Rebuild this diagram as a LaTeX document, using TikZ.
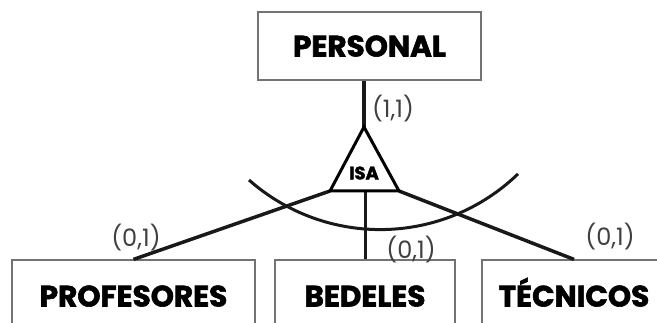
\documentclass[tikz,border=0pt]{standalone}
\usepackage{fontspec}
\setmainfont{Poppins}[BoldFeatures={FakeBold=2}]
\usetikzlibrary{positioning,calc}
\tikzset{
  entity/.style={draw=black!55,line width=1.2pt,inner sep=0pt,text height=21pt,text depth=0pt,font=\bfseries\fontsize{29.5}{31}\selectfont},
  link/.style={line width=3.5pt,black!90},
  card/.style={font=\fontsize{24}{26}\selectfont,black!75}
}
\begin{document}
\begin{tikzpicture}[x=1pt,y=1pt]
    \useasboundingbox (0,0) rectangle (657,322);
    \clip (0,0) rectangle (657,322);
    \node[entity,minimum width=223pt,minimum height=68pt] (personal) at (369.5,276) {PERSONAL};
    \node[entity,minimum width=243pt,minimum height=72pt] (profesores) at (133.5,26) {PROFESORES};
    \node[entity,minimum width=180pt,minimum height=72pt] (bedeles) at (365,26) {BEDELES};
    \node[entity,minimum width=184pt,minimum height=72pt] (tecnicos) at (574,26) {TÉCNICOS};
    \coordinate (apex) at (364,195);
    \coordinate (bl) at (330,131);
    \coordinate (bm) at (365,131);
    \coordinate (br) at (399,131);
    \draw[link,line width=4.5pt] (apex |- personal.south) -- (apex);
    \draw[link] (bl) -- (profesores.north);
    \draw[link,line width=3pt] (bm) -- (bedeles.north);
    \draw[link] (br) -- (tecnicos.north);
    \draw[link,line width=3pt] (249,142) arc[start angle=228.6,end angle=314,radius=198.4];
    \draw[line width=3pt,fill=white,line join=miter] (apex) -- (bl) -- (br) -- cycle;
    \node[font=\bfseries\fontsize{18}{20}\selectfont] (isa) at (364,149) {ISA};
    \node[card] (c1) at (393,213) {(1,1)};
    \node[card] (c2) at (136,84) {(0,1)};
    \node[card] (c3) at (411,72) {(0,1)};
    \node[card] (c4) at (610,85) {(0,1)};
\end{tikzpicture}
\end{document}
